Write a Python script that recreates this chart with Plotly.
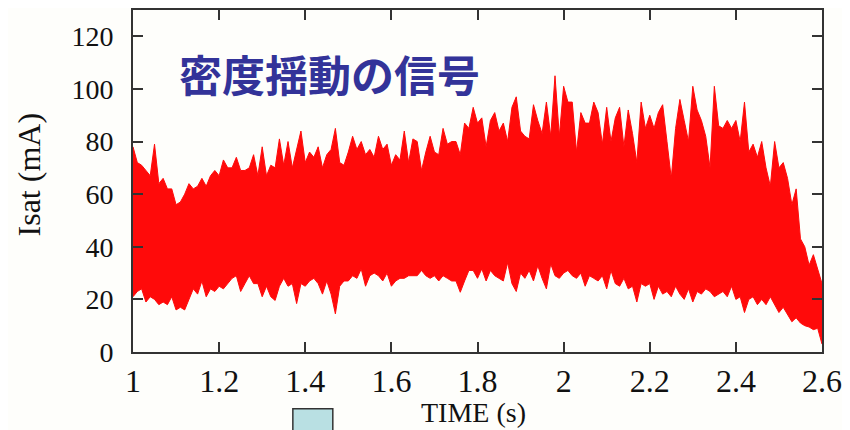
import numpy as np
import plotly.graph_objects as go

# time samples (s)
time_s = [round(1.0 + 0.01 * i, 2) for i in range(161)]

# upper envelope of Isat (mA)
isat_upper = [
    78, 72, 71, 69, 67, 79, 64, 66, 62, 62,
    56, 57, 60, 64, 62, 63, 66, 63, 67, 69,
    67, 73, 70, 70, 74, 69, 69, 70, 75, 67,
    78, 67, 71, 70, 81, 71, 80, 70, 77, 84,
    72, 76, 74, 78, 70, 75, 77, 85, 72, 71,
    76, 82, 77, 80, 75, 77, 74, 82, 77, 79,
    71, 75, 73, 84, 72, 81, 80, 69, 76, 82,
    76, 75, 85, 79, 80, 80, 75, 87, 85, 93,
    87, 89, 78, 88, 91, 84, 87, 80, 93, 97,
    84, 82, 81, 94, 88, 83, 95, 82, 105, 82,
    101, 95, 95, 76, 91, 87, 87, 95, 91, 79,
    93, 80, 89, 93, 78, 92, 83, 72, 95, 85,
    90, 85, 91, 94, 80, 66, 85, 96, 88, 80,
    101, 92, 88, 82, 70, 101, 86, 85, 88, 85,
    88, 80, 95, 76, 79, 74, 80, 70, 63, 80,
    70, 72, 66, 56, 62, 43, 40, 33, 37, 31,
    26,
]

# lower envelope of Isat (mA)
isat_lower = [
    21, 23, 24, 19, 21, 20, 18, 19, 18, 21,
    16, 17, 16, 20, 24, 22, 27, 21, 24, 23,
    25, 24, 26, 28, 29, 23, 26, 29, 26, 26,
    21, 25, 21, 19.6, 25, 28, 25, 26, 18.4, 26,
    25, 27, 28, 26, 22, 27, 22, 14.5, 25, 27,
    27, 29, 28, 31.6, 25, 29, 30, 29, 27, 30,
    25, 27, 28, 28, 29, 29, 29, 31, 29, 28,
    29, 27, 29, 28, 27, 27, 22.7, 27, 31, 31,
    28, 31.6, 27, 31, 29, 28, 27, 34, 26, 23,
    30, 28, 31, 27, 32.8, 28, 24, 33.5, 29, 28,
    30, 31, 29, 28, 30, 25, 29, 28, 27, 29,
    24, 31, 26, 25, 28, 24, 25, 19, 26, 25,
    26, 20, 25, 22, 23, 21, 25, 22, 20, 24,
    19, 23, 22, 24, 23, 21, 22, 23, 21, 25,
    20, 21, 15, 20, 21, 18, 20, 18, 21, 18,
    15, 17, 14, 11.5, 13, 11, 10, 9.5, 8.5, 9,
    3,
]

x_ticks = [1, 1.2, 1.4, 1.6, 1.8, 2, 2.2, 2.4, 2.6]
x_tick_labels = ["1", "1.2", "1.4", "1.6", "1.8", "2", "2.2", "2.4", "2.6"]
y_ticks = [0, 20, 40, 60, 80, 100, 120]
y_tick_labels = ["0", "20", "40", "60", "80", "100", "120"]

RED = "#ff0a0a"
BG = "#fefefb"
SERIF = "Liberation Serif, Times New Roman, serif"

fig = go.Figure()
fig.add_trace(go.Scatter(
    x=time_s, y=isat_lower, mode="lines",
    line=dict(color=RED, width=1), hoverinfo="skip", showlegend=False,
))
fig.add_trace(go.Scatter(
    x=time_s, y=isat_upper, mode="lines", fill="tonexty",
    fillcolor=RED, line=dict(color=RED, width=1), showlegend=False,
))

axis_common = dict(
    showgrid=False, zeroline=False, showline=True, linecolor="#333333",
    linewidth=2, mirror="allticks", ticks="inside", ticklen=10,
    tickwidth=2, tickcolor="#333333",
)

fig.update_xaxes(
    range=[1, 2.6], tickvals=x_ticks, ticktext=x_tick_labels,
    tickfont=dict(family=SERIF, size=32, color="#111111"),
    ticklabelstandoff=0, **axis_common,
)
fig.update_yaxes(
    range=[0, 130], tickvals=y_ticks, ticktext=y_tick_labels,
    tickfont=dict(family=SERIF, size=28, color="#111111"),
    ticklabelstandoff=12, **axis_common,
)

fig.add_annotation(
    x=1.457, y=106, xref="x", yref="y", text="<b>密度揺動の信号</b>",
    showarrow=False, font=dict(family="Noto Sans CJK JP", size=43, color="#333399"),
    xanchor="center", yanchor="middle",
)
fig.add_annotation(
    x=0.494, y=-0.178, xref="paper", yref="paper", text="TIME (s)",
    showarrow=False, font=dict(family=SERIF, size=28, color="#111111"),
    xanchor="center", yanchor="middle",
)
fig.add_annotation(
    x=-0.151, y=0.519, xref="paper", yref="paper", text="Isat (mA)",
    showarrow=False, textangle=-90,
    font=dict(family=SERIF, size=32, color="#111111"),
    xanchor="center", yanchor="middle",
)
fig.add_shape(
    type="rect", xref="paper", yref="paper",
    x0=0.232, x1=0.290, y0=-0.166, y1=-0.26,
    fillcolor="#b9e0e3", line=dict(color="#333333", width=1.5),
)

# the page body adds an 8 px offset, so the figure is sized to fit the window
fig.update_layout(
    width=842, height=422,
    margin=dict(l=125, r=28, t=0, b=78, pad=0),
    paper_bgcolor=BG, plot_bgcolor=BG,
)

fig.write_html("out.html")
